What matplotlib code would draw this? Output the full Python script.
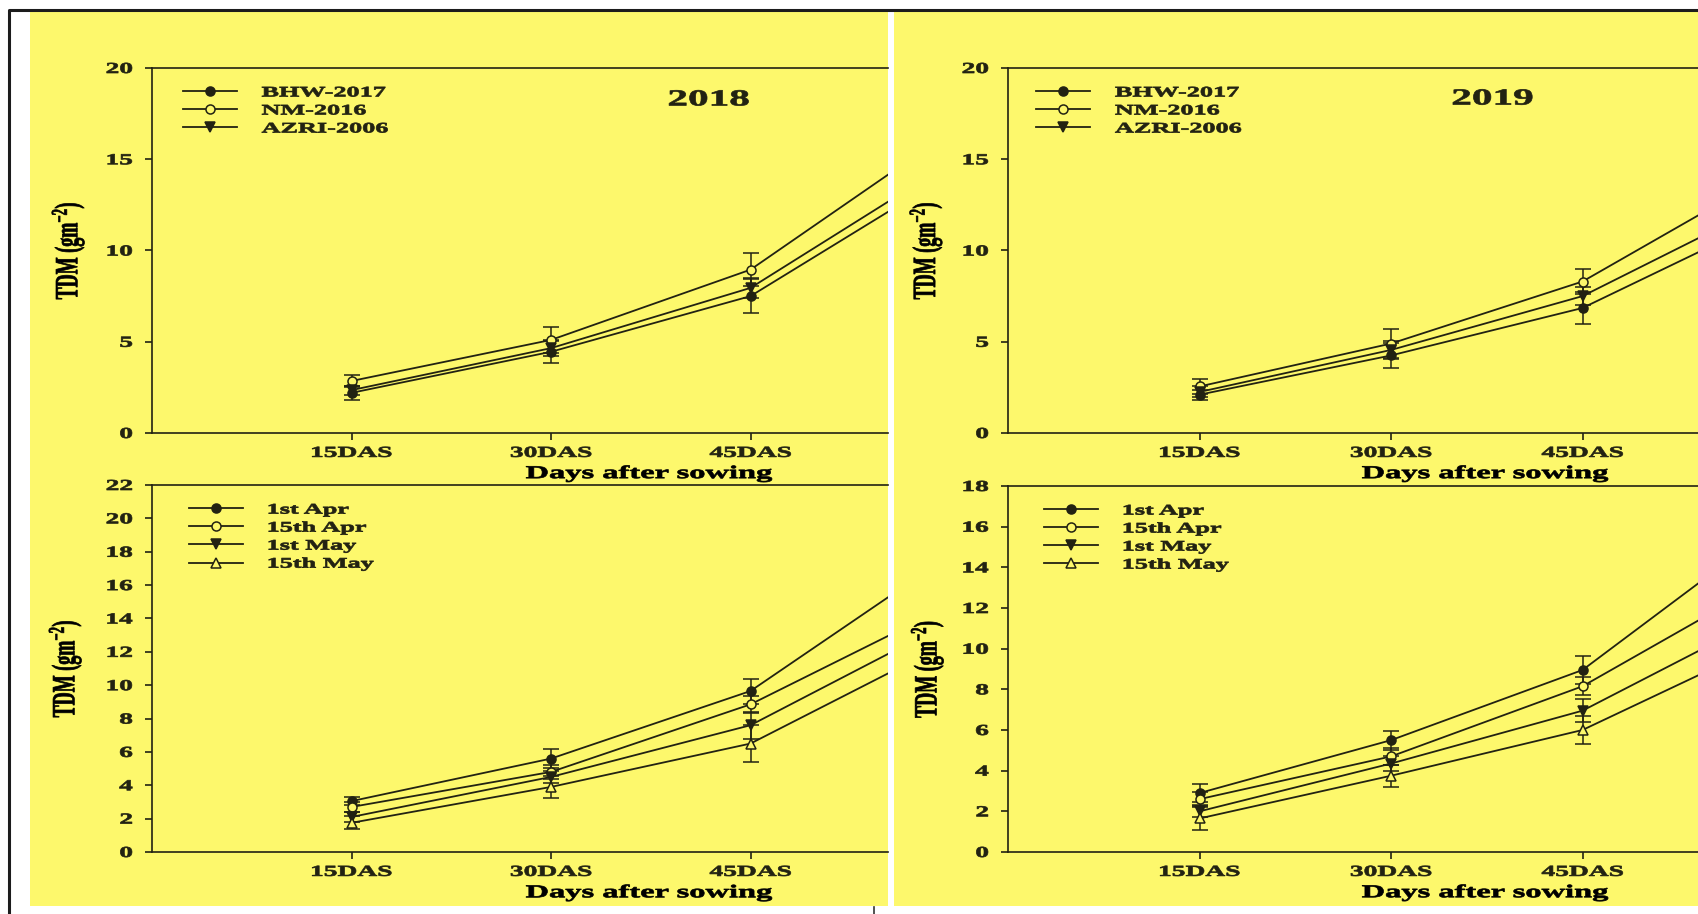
import matplotlib
matplotlib.use("Agg")
import matplotlib.pyplot as plt
import matplotlib.patheffects as pe
from matplotlib.patches import Rectangle
from matplotlib.lines import Line2D
from matplotlib.transforms import Affine2D, blended_transform_factory

### data ###
days = ["15DAS", "30DAS", "45DAS", "60DAS"]
xpos = [1, 2, 3, 4]

cultivars = ["BHW-2017", "NM-2016", "AZRI-2006"]
sowing_dates = ["1st Apr", "15th Apr", "1st May", "15th May"]

# total dry matter (g m-2) by cultivar
bhw_2018 = [2.2, 4.45, 7.5, 14.2]
nm_2018 = [2.85, 5.1, 8.95, 16.5]
azri_2018 = [2.35, 4.65, 7.95, 14.8]
bhw_2018_se = [0.37, 0.6, 0.95, 1.2]
nm_2018_se = [0.33, 0.72, 0.92, 1.3]
azri_2018_se = [0.25, 0.45, 0.55, 1.1]

bhw_2019 = [2.1, 4.25, 6.85, 11.9]
nm_2019 = [2.55, 4.9, 8.3, 14.3]
azri_2019 = [2.25, 4.55, 7.5, 12.75]
bhw_2019_se = [0.28, 0.7, 0.86, 1.1]
nm_2019_se = [0.42, 0.8, 0.7, 1.2]
azri_2019_se = [0.3, 0.5, 0.5, 1.0]

# total dry matter (g m-2) by sowing date
apr1_2018 = [3.05, 5.6, 9.65, 17.8]
apr15_2018 = [2.7, 4.8, 8.85, 14.8]
may1_2018 = [2.1, 4.5, 7.6, 13.8]
may15_2018 = [1.75, 3.9, 6.5, 12.6]
apr1_2018_se = [0.25, 0.55, 0.75, 1.3]
apr15_2018_se = [0.3, 0.4, 0.5, 1.1]
may1_2018_se = [0.3, 0.35, 0.8, 1.0]
may15_2018_se = [0.4, 0.65, 1.1, 1.2]

apr1_2019 = [2.9, 5.5, 8.95, 16.0]
apr15_2019 = [2.6, 4.7, 8.15, 13.5]
may1_2019 = [2.0, 4.35, 6.95, 11.8]
may15_2019 = [1.65, 3.75, 6.0, 10.45]
apr1_2019_se = [0.43, 0.46, 0.69, 1.2]
apr15_2019_se = [0.35, 0.43, 0.45, 1.0]
may1_2019_se = [0.3, 0.35, 0.56, 0.9]
may15_2019_se = [0.55, 0.54, 0.7, 1.0]

### style ###
W, H = 1698, 914
ink = "#222212"
paper = "#fdf86c"
sx = 1.8

plt.rcParams["font.family"] = ["Liberation Serif", "DejaVu Serif"]
plt.rcParams["font.weight"] = "bold"
plt.rcParams["mathtext.fontset"] = "custom"
plt.rcParams["mathtext.rm"] = "Liberation Serif:bold"
plt.rcParams["mathtext.it"] = "Liberation Serif:bold"
plt.rcParams["mathtext.bf"] = "Liberation Serif:bold"
plt.rcParams["mathtext.default"] = "rm"
plt.rcParams["text.color"] = ink


class Widen(pe.AbstractPathEffect):
    # stretch glyphs sideways about the left, centre or right of the text,
    # with a thin outline to thicken the strokes
    def __init__(self, sx=1.8, anchor="center", stroke=0.5):
        super().__init__()
        self.sx = sx
        self.anchor = anchor
        self.stroke = stroke

    def draw_path(self, renderer, gc, tpath, affine, rgbFace=None):
        bb = tpath.get_extents(affine)
        x0 = {"left": bb.x0, "center": 0.5 * (bb.x0 + bb.x1), "right": bb.x1}[self.anchor]
        stretch = affine + Affine2D().translate(-x0, 0).scale(self.sx, 1).translate(x0, 0)
        gc0 = renderer.new_gc()
        gc0.copy_properties(gc)
        gc0.set_linewidth(self.stroke)
        renderer.draw_path(gc0, tpath, stretch, rgbFace)
        gc0.restore()


def box(x0, y0, x1, y1):
    # pixel box (top-left origin) -> figure fraction rect
    return [x0 / W, 1 - y1 / H, (x1 - x0) / W, (y1 - y0) / H]


def panel(ax, series, errors, labels, markers, faces, ymax, ystep, xmax,
          ylab_x, leg_x, title=None, title_xy=None):
    handles = []
    for y, e, m, fc in zip(series, errors, markers, faces):
        c = ax.errorbar(xpos, y, yerr=e, fmt="-" + m, color=ink, mfc=fc, mec=ink,
                        ms=6.5, mew=1.1, lw=1.3, elinewidth=1.1, capsize=6, capthick=1.1)
        handles.append(c[0])
    ax.set_xticks(xpos, days)
    ax.set_yticks(range(0, ymax + 1, ystep))
    # limits after the ticks, so the 60DAS tick does not widen the view
    ax.set_xlim(0, xmax)
    ax.set_ylim(0, ymax)
    ax.set_facecolor("none")
    ax.spines["right"].set_visible(False)
    for s in ["left", "bottom", "top"]:
        ax.spines[s].set_color(ink)
        ax.spines[s].set_linewidth(1.2)
    ax.tick_params(axis="y", direction="out", length=5, width=1.2, pad=9,
                   labelsize=11, colors=ink)
    ax.tick_params(axis="x", direction="out", length=5, width=1.2, pad=5,
                   labelsize=11, colors=ink)
    ax.set_xlabel("Days after sowing", fontsize=13, fontweight="bold")
    ax.xaxis.set_label_coords(2.49, -0.088,
                              transform=blended_transform_factory(ax.transData, ax.transAxes))
    ax.set_ylabel("TDM (gm$^{-2}$)", fontsize=13, fontweight="bold")
    ax.yaxis.set_label_coords(ylab_x, 0.5)
    ax.yaxis.label.set_va("center")
    leg = ax.legend(handles, labels, loc="upper left", bbox_to_anchor=(leg_x, 0.95),
                    frameon=False, fontsize=10.5, handlelength=3.7, handletextpad=1.7,
                    labelspacing=0.33, borderpad=0, borderaxespad=0, numpoints=1)
    texts = []
    if title:
        texts.append(ax.text(title_xy[0], title_xy[1], title, fontsize=16.5,
                             fontweight="bold", ha="center", va="center"))

    # widen every piece of text
    for t in ax.get_yticklabels():
        t.set_path_effects([Widen(sx, "right")])
    for t in ax.get_xticklabels() + [ax.xaxis.label, ax.yaxis.label] + texts:
        t.set_path_effects([Widen(sx, "center")])
    for t in leg.get_texts():
        t.set_path_effects([Widen(sx, "left")])


fig = plt.figure(figsize=(W / 100, H / 100), dpi=100, facecolor="white")

# yellow panels and outer frame
fig.add_artist(Rectangle((30 / W, 1 - 906 / H), 858 / W, 894 / H,
                         transform=fig.transFigure, color=paper, lw=0, zorder=0))
fig.add_artist(Rectangle((894 / W, 1 - 906 / H), (W - 894) / W, 894 / H,
                         transform=fig.transFigure, color=paper, lw=0, zorder=0))
fig.add_artist(Line2D([8.5 / W, 8.5 / W, 1], [0, 1 - 10 / H, 1 - 10 / H],
                      transform=fig.transFigure, color="#1c1c1c", lw=2.2))
fig.add_artist(Line2D([874 / W, 874 / W], [0, 1 - 907 / H],
                      transform=fig.transFigure, color="#333333", lw=1.2))

ax_tl = fig.add_axes(box(152, 68, 888, 433))
ax_tr = fig.add_axes(box(1008, 68, W, 433))
ax_bl = fig.add_axes(box(152, 485, 888, 852))
ax_br = fig.add_axes(box(1008, 486, W, 852))

cult_markers = ["o", "o", "v"]
cult_faces = [ink, paper, ink]
date_markers = ["o", "o", "v", "^"]
date_faces = [ink, paper, ink, paper]

panel(ax_tl, [bhw_2018, nm_2018, azri_2018], [bhw_2018_se, nm_2018_se, azri_2018_se],
      cultivars, cult_markers, cult_faces, 20, 5, 736 / 199.5,
      -0.114, 0.042, "2018", (2.79, 18.25))
panel(ax_tr, [bhw_2019, nm_2019, azri_2019], [bhw_2019_se, nm_2019_se, azri_2019_se],
      cultivars, cult_markers, cult_faces, 20, 5, 690 / 191.5,
      -0.119, 0.041, "2019", (2.53, 18.3))
panel(ax_bl, [apr1_2018, apr15_2018, may1_2018, may15_2018],
      [apr1_2018_se, apr15_2018_se, may1_2018_se, may15_2018_se],
      sowing_dates, date_markers, date_faces, 22, 2, 736 / 199.5,
      -0.118, 0.05)
panel(ax_br, [apr1_2019, apr15_2019, may1_2019, may15_2019],
      [apr1_2019_se, apr15_2019_se, may1_2019_se, may15_2019_se],
      sowing_dates, date_markers, date_faces, 18, 2, 690 / 191.5,
      -0.117, 0.052)

fig.savefig("out.png", dpi=100, facecolor="white")
